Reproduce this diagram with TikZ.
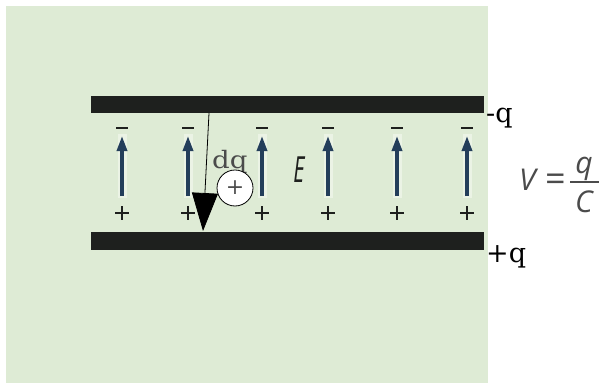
\documentclass[tikz,border=0pt]{standalone}
\usepackage{fontspec}
\setmainfont{DejaVu Serif}
\newfontfamily\eqfont{Open Sans}
\usetikzlibrary{arrows.meta}
\definecolor{bggreen}{RGB}{222,235,213}
\definecolor{plate}{RGB}{30,32,30}
\definecolor{fieldblue}{RGB}{35,62,90}
\definecolor{txtgray}{RGB}{75,75,75}
\tikzset{
  platebox/.style={fill=plate, draw=none},
  fieldarrow/.style={draw=fieldblue, line width=3.4pt, -{Triangle[length=15pt,width=10pt]}},
  halo/.style={draw=white, line width=9pt, opacity=0.4},
  minussign/.style={draw=plate, line width=2.8pt},
  plussign/.style={draw=plate, line width=2.2pt},
  chargelbl/.style={font=\fontsize{27}{27}\selectfont, text=black, inner sep=0pt, anchor=base west},
  eqtxt/.style={inner sep=0pt, text=txtgray, font=\fontsize{30}{30}\selectfont\eqfont\itshape},
}
\begin{document}
\begin{tikzpicture}[x=1pt,y=-1pt]
\useasboundingbox (0,0) rectangle (599,385);
\fill[white] (0,0) rectangle (599,385);
\fill[bggreen] (6,6) rectangle (488,383);
% plates
\fill[platebox] (91,96) rectangle (484,113);
\fill[platebox] (91,232) rectangle (484,250);
% field lines
\foreach \x in {122,188,262,328,397,467}{
  \draw[halo] (\x,198) -- (\x,134);
  \draw[fieldarrow] (\x,196) -- (\x,136);
  \draw[minussign] (\x-6,128) -- (\x+6,128);
  \draw[plussign] (\x-7,213) -- (\x+7,213);
  \draw[plussign] (\x,206) -- (\x,220);
}
% E label
\node[inner sep=0pt, text=plate, xscale=0.6] (E) at (299,170) {\fontsize{36}{36}\selectfont\eqfont\itshape E};
% charge labels
\node[chargelbl] (mq) at (486,123) {-q};
\node[chargelbl] (pq) at (486,262) {+q};
% dq and test charge
\node[inner sep=0pt, anchor=base west, text=txtgray, xscale=1.15] (dq) at (212,168) {\fontsize{24}{24}\selectfont dq};
\node[circle, draw=black, fill=white, line width=0.8pt, minimum size=36pt, inner sep=0pt, text=txtgray] (chg) at (235,188) {\fontsize{22}{22}\selectfont +};
% black arrow
\coordinate (astart) at (209,113);
\coordinate (aend) at (203,231);
\draw[line width=0.8pt, -{Triangle[length=38pt,width=26pt]}] (astart) -- (aend);
% formula
\node[eqtxt, anchor=base west] (V) at (519,190) {V};
\node[eqtxt, anchor=base west] (eq) at (545,191) {\fontsize{36}{36}\selectfont\upshape =};
\node[eqtxt, anchor=base] (fq) at (584,173) {q};
\node[eqtxt, anchor=base] (fC) at (584,212) {C};
\coordinate (barl) at (570,182);
\coordinate (barr) at (599,182);
\draw[txtgray, line width=1.8pt] (barl) -- (barr);
\end{tikzpicture}
\end{document}
